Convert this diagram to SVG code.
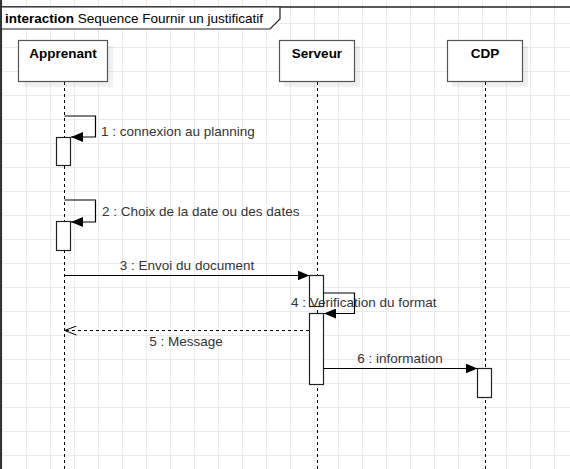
<svg xmlns="http://www.w3.org/2000/svg" width="570" height="469" viewBox="0 0 570 469">
<defs>
<pattern id="grid" patternUnits="userSpaceOnUse" x="2" y="23" width="24" height="24">
<path d="M0 0.5H24M0.5 0V24" fill="none" stroke="#ebebeb" stroke-width="1"/>
</pattern>
<marker id="filled" viewBox="0 0 12 10" refX="12" refY="5" markerWidth="12" markerHeight="10" markerUnits="userSpaceOnUse" orient="auto">
<path d="M0 0L12 5L0 10Z" fill="#000"/>
</marker>
<marker id="open" viewBox="0 0 12 10" refX="12" refY="5" markerWidth="12" markerHeight="10" markerUnits="userSpaceOnUse" orient="auto">
<path d="M0 0.5L12 5L0 9.5" fill="none" stroke="#000" stroke-width="1"/>
</marker>
</defs>
<style>
.box{fill:#fff;stroke:#555;stroke-width:1.2}
.shadow{fill:#000;opacity:0.06}
.name{font-family:"Liberation Sans",Arial,sans-serif;font-size:13.5px;font-weight:bold;fill:#000;text-anchor:middle}
.life{stroke:#000;stroke-width:1;stroke-dasharray:3 3;fill:none}
.act{fill:#fff;stroke:#222;stroke-width:1.2}
.msg{fill:none;stroke:#000;stroke-width:1.2}
.lbl{font-family:"Liberation Sans",Arial,sans-serif;font-size:13.5px;fill:#333}
.title{font-family:"Liberation Sans",Arial,sans-serif;font-size:13.5px;fill:#000}
</style>
<rect width="570" height="469" fill="#fff"/>
<rect width="570" height="469" fill="url(#grid)"/>
<g id="frame">
<line x1="1" y1="0" x2="1" y2="469" stroke="#333" stroke-width="2"/>
<line x1="2" y1="7" x2="570" y2="7" stroke="#222" stroke-width="1.5"/>
<path d="M2 7H280V19L270 29H2" fill="#fff" stroke="#222" stroke-width="1.2"/>
<text class="title" x="5" y="22.5"><tspan font-weight="bold">interaction</tspan> Sequence Fournir un justificatif</text>
</g>
<g id="lifelines">
<line class="life" x1="64.5" y1="82" x2="64.5" y2="469"/>
<line class="life" x1="317.5" y1="82" x2="317.5" y2="469"/>
<line class="life" x1="485.5" y1="82" x2="485.5" y2="469"/>
</g>
<g id="apprenant">
<rect class="shadow" x="24" y="46" width="89" height="41"/>
<rect class="box" x="18.5" y="40.5" width="89" height="41"/>
<text class="name" x="63" y="57.5">Apprenant</text>
</g>
<g id="serveur">
<rect class="shadow" x="284" y="46" width="76" height="41"/>
<rect class="box" x="279.5" y="40.5" width="75" height="41"/>
<text class="name" x="317" y="57.5">Serveur</text>
</g>
<g id="cdp">
<rect class="shadow" x="452" y="46" width="76" height="41"/>
<rect class="box" x="447.5" y="40.5" width="75" height="41"/>
<text class="name" x="485" y="57.5">CDP</text>
</g>
<g id="activations">
<rect class="act" x="56.5" y="137.5" width="14" height="28"/>
<rect class="act" x="56.5" y="221.5" width="14" height="29"/>
<rect class="act" x="309.5" y="275.5" width="14" height="31"/>
<rect class="act" x="309.5" y="313.5" width="14" height="71"/>
<rect class="act" x="477.5" y="368.5" width="14" height="29"/>
</g>
<g id="connectors">
<path class="msg" d="M64.5 116H95.5V137H71" marker-end="url(#filled)"/>
<path class="msg" d="M64.5 200H95.5V222H71" marker-end="url(#filled)"/>
<path class="msg" d="M64.5 275.5H309.5" marker-end="url(#filled)"/>
<path class="msg" d="M323.5 293H354.5V313.5H324" marker-end="url(#filled)"/>
<path class="msg" d="M309 330.5H64.5" stroke-dasharray="3 3" marker-end="url(#open)"/>
<path class="msg" d="M323.5 368.5H477.5" marker-end="url(#filled)"/>
</g>
<g id="labels">
<text class="lbl" x="101" y="135.5">1 : connexion au planning</text>
<text class="lbl" x="102" y="215.5">2 : Choix de la date ou des dates</text>
<text class="lbl" x="187" y="269.5" text-anchor="middle">3 : Envoi du document</text>
<text class="lbl" x="291" y="306.5">4 : Verification du format</text>
<text class="lbl" x="186" y="345.5" text-anchor="middle">5 : Message</text>
<text class="lbl" x="400" y="362.5" text-anchor="middle">6 : information</text>
</g>
</svg>
